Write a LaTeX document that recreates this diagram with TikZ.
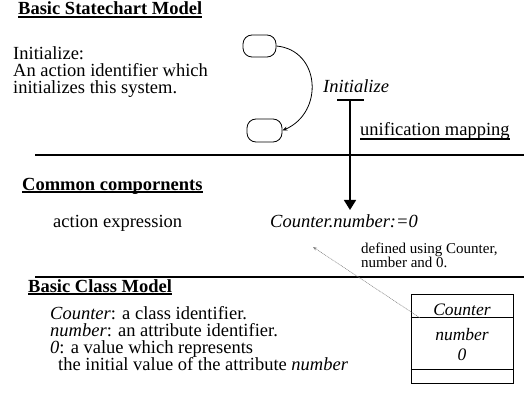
\documentclass[tikz,border=0pt]{standalone}
\usepackage{fontspec}
\setmainfont{Liberation Serif}
\usetikzlibrary{arrows.meta,calc}

\begin{document}
\begin{tikzpicture}[x=1pt,y=-1pt,
  txt/.style={inner sep=0pt, anchor=base west, font=\fontsize{18.5}{18.5}\selectfont},
  itxt/.style={txt, font=\fontsize{18.5}{18.5}\selectfont\itshape},
  hd/.style={txt, font=\fontsize{18.5}{18.5}\selectfont\bfseries},
  small/.style={inner sep=0pt, anchor=base west, font=\fontsize{15}{15}\selectfont},
  st/.style={draw, line width=0.8pt, rounded corners=9pt, inner sep=0pt},
  rule/.style={line width=1.7pt},
  uline/.style={line width=1.3pt},
  boxtxt/.style={inner sep=0pt, anchor=base, font=\fontsize{17.5}{17.5}\selectfont\itshape},
  thin/.style={line width=0.8pt},
]
\path[use as bounding box] (0,0) rectangle (524,398);

% ---- statechart section
\node[hd] (h1) at (18,15) {Basic Statechart Model};
\draw[uline] ([yshift=-2pt]h1.base west) -- ([yshift=-2pt]h1.base east);

\node[txt] (i1) at (13,60) {Initialize:};
\node[txt] (i2) at (13,77) {An action identifier which};
\node[txt] (i3) at (13,94) {initializes this system.};

\node[st, minimum width=33pt, minimum height=22pt] (s1) at (259.5,46) {};
\node[st, minimum width=35pt, minimum height=23pt] (s2) at (264.5,130.5) {};
\draw[thin, -{Stealth[length=5pt,width=4pt]}]
  (s1.east) .. controls ($(s1.east)+(44,4)$) and ($(s2.east)+(42,-18)$) .. (s2.east);

\node[itxt] (lbl) at (323,93) {Initialize};

% unification mapping bar
\coordinate (tbl) at (337,100);
\coordinate (tbr) at (364,100);
\coordinate (tb) at (350,100);
\draw[line width=2pt] (tbl) -- (tbr);

\node[txt] (um) at (360,136) {unification mapping};
\draw[uline] ([yshift=-3pt]um.base west) -- ([yshift=-3pt]um.base east);

% separators
\coordinate (r1a) at (35,155);
\coordinate (r1b) at (524,155);
\coordinate (r2a) at (35,277);
\coordinate (r2b) at (524,277);
\draw[rule] (r1a) -- (r1b);
\draw[rule] (r2a) -- (r2b);

% ---- common components
\node[hd] (h2) at (22,190) {Common compornents};
\draw[uline] ([yshift=-2pt]h2.base west) -- ([yshift=-2pt]h2.base east);

\node[txt] (ae) at (53,227) {action expression};
\node[itxt] (expr) at (270,227) {Counter.number:=0};

\draw[line width=1.7pt, shorten >=4pt, -{Triangle[length=10pt,width=12pt]}] (tb) -- (tb |- expr.north);

\node[small] (n1) at (361,253.5) {defined using Counter,};
\node[small] (n2) at (361,267.5) {number and 0.};

% ---- class model
\node[hd] (h3) at (28,292) {Basic Class Model};
\draw[uline] ([yshift=-2pt]h3.base west) -- ([yshift=-2pt]h3.base east);

\node[txt] (c1) at (50,319) {\textit{Counter}: a class identifier.};
\node[txt] (c2) at (50,336) {\textit{number}: an attribute identifier.};
\node[txt] (c3) at (50,353) {\textit{0}: a value which represents};
\node[txt] (c4) at (58,370) {the initial value of the attribute \textit{number}};

\node[draw, thin, minimum width=102pt, minimum height=89pt, inner sep=0pt] (cls) at (462,338.5) {};
\draw[thin] ($(cls.north west)+(0,24)$) -- ($(cls.north east)+(0,24)$);
\draw[thin] ($(cls.south west)+(0,-14)$) -- ($(cls.south east)+(0,-14)$);
\node[boxtxt] (cn) at (462,315) {Counter};
\node[boxtxt] (ca) at (462,340) {number};
\node[boxtxt] (cv) at (462,360) {0};

\coordinate (dstart) at ($(cls.north west)+(9,24)$);
\coordinate (dtip) at ($(expr.base west)+(43,20)$);
\draw[gray, line width=0.5pt, dash pattern=on 1pt off 0.7pt, -{Stealth[length=4pt,width=3pt]}] (dstart) -- (dtip);
\end{tikzpicture}
\end{document}
